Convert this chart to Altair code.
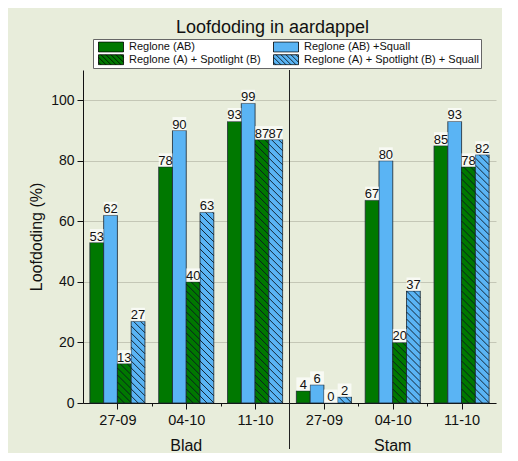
import json
import altair as alt
import pandas as pd

# ---------------- data ----------------
parts = ["Blad", "Stam"]
dates = ["27-09", "04-10", "11-10"]
series = [
    "Reglone (AB)",
    "Reglone (AB) +Squall",
    "Reglone (A) + Spotlight (B)",
    "Reglone (A) + Spotlight (B) + Squall",
]
hatched = [False, False, True, True]
colors = ["#007800", "#5ab4f4", "#007800", "#5ab4f4"]

blad_ab = [53, 78, 93]
blad_ab_squall = [62, 90, 99]
blad_a_spot = [13, 40, 87]
blad_a_spot_squall = [27, 63, 87]

stam_ab = [4, 67, 85]
stam_ab_squall = [6, 80, 93]
stam_a_spot = [0, 20, 78]
stam_a_spot_squall = [2, 37, 82]

values = {
    "Blad": [blad_ab, blad_ab_squall, blad_a_spot, blad_a_spot_squall],
    "Stam": [stam_ab, stam_ab_squall, stam_a_spot, stam_a_spot_squall],
}

# ---------------- layout ----------------
FONT = "Liberation Sans"
W, H = 413, 333
YMAX = 110
NG = len(parts) * len(dates)
BW = 0.2           # bar width in group units
PAD = 0.1          # outer gap in group
SX = W / NG        # px per x unit
SY = H / YMAX      # px per y unit
HATCH_STEP = 7.0 / SY
DROP = BW * SX / SY  # 45 degree on screen
LABEL_BOX = 13.5 / SY  # label background height in y units

rows = []
for pi, part in enumerate(parts):
    for si, s in enumerate(series):
        for di, d in enumerate(dates):
            g = pi * len(dates) + di
            x0 = g + PAD + BW * si
            rows.append({
                "part": part, "date": d, "series": s, "value": values[part][si][di],
                "x0": x0, "x1": x0 + BW, "xm": x0 + BW / 2, "hatched": hatched[si],
            })
df = pd.DataFrame(rows)

# hatch segments derived from hatched bars
segs = []
for r in rows:
    if not r["hatched"] or r["value"] <= 0:
        continue
    v, xl = r["value"], r["x0"]
    k = 1
    while True:
        c = k * HATCH_STEP
        k += 1
        if c - DROP >= v:
            break
        if c > v:
            xs, ys = xl + (c - v) / DROP * BW, v
        else:
            xs, ys = xl, c
        if c - DROP < 0:
            xe, ye = xl + c / DROP * BW, 0.0
        else:
            xe, ye = xl + BW, c - DROP
        if xe - xs > 1e-4:
            segs.append({"xs": xs, "ys": ys, "xe": xe, "ye": ye})
hatch_df = pd.DataFrame(segs)

sep_df = pd.DataFrame({"pos": [len(dates)]})
part_df = pd.DataFrame({"part": parts, "pos": [pi * len(dates) + len(dates) / 2 for pi in range(len(parts))]})

# legend symbols
rect_path = "M-1,-0.4H1V0.4H-1Z"
hp = rect_path
x0 = -1.6
while x0 < 1.0:
    if x0 >= -1:
        a = (x0, -0.4)
    else:
        a = (-1.0, -0.4 + (-1 - x0))
    if x0 + 0.8 <= 1:
        b = (x0 + 0.8, 0.4)
    else:
        b = (1.0, -0.4 + (1 - x0))
    hp += "M%.3f,%.3fL%.3f,%.3f" % (a[0], a[1], b[0], b[1])
    x0 += 0.4
shape_paths = [hp if h else rect_path for h in hatched]

# ---------------- scales / axes ----------------
xscale = alt.Scale(domain=[0, NG], nice=False, zero=False)
yscale = alt.Scale(domain=[0, YMAX], nice=False)
color_scale = alt.Scale(domain=series, range=colors)
shape_scale = alt.Scale(domain=series, range=shape_paths)

xticks = []
for g in range(NG):
    xticks.append(g + 0.5)
    if g + 1 < NG and g + 1 != len(dates):
        xticks.append(g + 1)
label_arr = json.dumps(dates * len(parts)).replace('"', "'")

xaxis = alt.Axis(
    values=xticks, title=None, grid=False,
    labelExpr="datum.value % 1 != 0 ? " + label_arr + "[floor(datum.value)] : ''",
    tickSize={"condition": {"test": "datum.value % 1 != 0", "value": 6}, "value": 3},
    labelFontSize=14.5, labelFont=FONT, labelColor="#111", domainColor="#111",
    tickColor="#111", labelPadding=4, labelFlush=False, labelOverlap=False,
)
yaxis = alt.Axis(
    values=list(range(0, 101, 10)), title="Loofdoding (%)",
    labelExpr="datum.value % 20 == 0 ? datum.label : ''",
    tickSize={"condition": {"test": "datum.value % 20 == 0", "value": 6}, "value": 3},
    grid=True, gridColor="#c4c7b6", gridWidth=1,
    labelFontSize=14, labelFont=FONT, labelColor="#111", labelPadding=3,
    titleFontSize=16, titleFont=FONT, titleFontWeight="normal", titleColor="#111",
    titlePadding=6, domainColor="#111", tickColor="#111", labelOverlap=False,
)

def make_legend():
    return alt.Legend(
        title=None, orient="none", legendX=10, legendY=-31, columns=2,
        direction="horizontal",
        columnPadding=9, rowPadding=0, symbolSize=625, clipHeight=11.5,
        symbolOffset=3, labelOffset=5,
        labelFontSize=11, labelFont=FONT, labelColor="#111",
        labelLimit=300, padding=2, fillColor="white", strokeColor="#666",
        symbolStrokeColor="black", symbolStrokeWidth=0.8,
    )

base = alt.Chart(df)

legend_layer = base.transform_filter("false").mark_point(
    filled=True, opacity=1, stroke="black", strokeWidth=0.8, size=625
).encode(
    x=alt.X("xm:Q", scale=xscale, axis=xaxis),
    y=alt.Y("value:Q", scale=yscale, axis=yaxis),
    color=alt.Color("series:N", scale=color_scale, legend=make_legend()),
    shape=alt.Shape("series:N", scale=shape_scale, legend=make_legend()),
)

bars = base.mark_bar(stroke="#1b2630", strokeWidth=0.8).encode(
    x=alt.X("x0:Q", scale=xscale, axis=xaxis),
    x2="x1:Q",
    y=alt.Y("value:Q", scale=yscale, axis=yaxis),
    y2=alt.datum(0),
    color=alt.Color("series:N", scale=color_scale, legend=make_legend()),
)

hatch = alt.Chart(hatch_df).mark_rule(color="#0b1620", strokeWidth=0.9).encode(
    x="xs:Q", x2="xe:Q", y="ys:Q", y2="ye:Q",
)

label_bg = base.transform_calculate(top="datum.value + %f" % LABEL_BOX).mark_rect(
    color="white", opacity=0.7
).encode(
    x="x0:Q", x2="x1:Q", y="value:Q", y2="top:Q",
)

labels = base.mark_text(fontSize=13, font=FONT, dy=-2, baseline="alphabetic", color="#111").encode(
    x="xm:Q", y="value:Q", text="value:Q",
)

sep = alt.Chart(sep_df).mark_rule(color="#222", strokeWidth=1).encode(
    x="pos:Q", y=alt.value(0), y2=alt.value(H + 46),
)

part_text = alt.Chart(part_df).mark_text(fontSize=16, font=FONT, baseline="alphabetic", color="#111").encode(
    x="pos:Q", y=alt.value(381), text="part:N",
)

chart = alt.layer(legend_layer, bars, hatch, label_bg, labels, sep, part_text).properties(
    width=W, height=H,
    padding={"left": 75, "top": 62, "right": 6, "bottom": 50},
    autosize=alt.AutoSizeParams(type="none"),
    background="#e8eddb",
    title=alt.Title("Loofdoding in aardappel", fontSize=18, font=FONT, fontWeight="normal",
                    color="#111", anchor="middle", dx=-17, offset=2),
).configure_view(strokeWidth=0)

chart.save("out.html", embed_options={"renderer": "svg", "actions": False})
